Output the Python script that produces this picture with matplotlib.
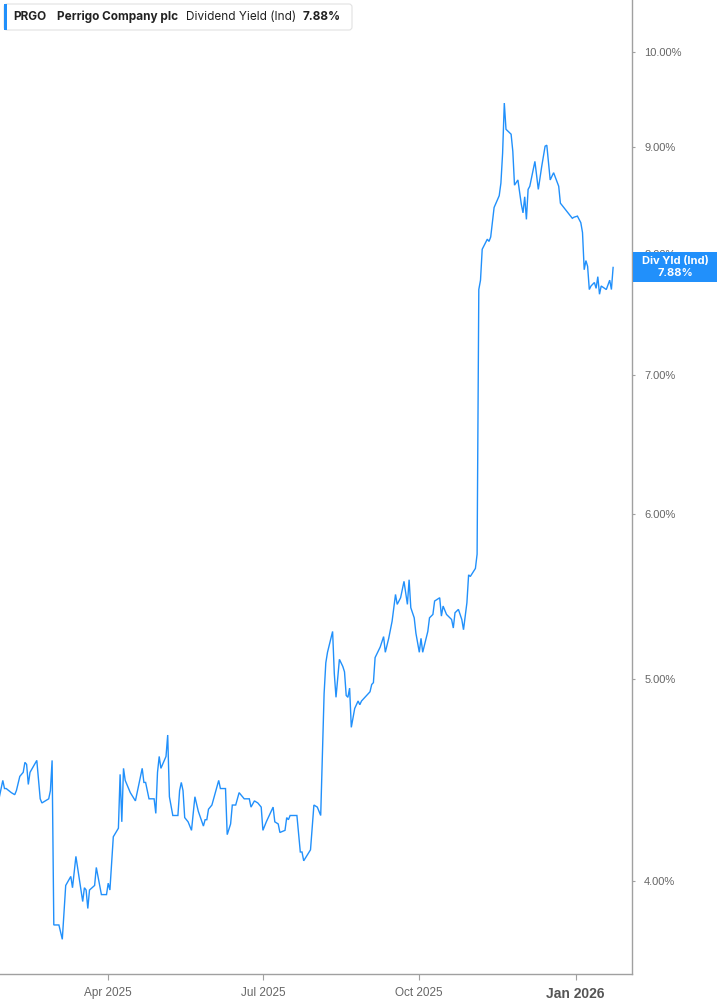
import matplotlib
matplotlib.use("Agg")
import matplotlib.pyplot as plt
import matplotlib.dates as mdates
import pandas as pd
from matplotlib import font_manager
from matplotlib.patches import Rectangle, FancyBboxPatch
from matplotlib.ticker import FixedLocator, FuncFormatter, NullLocator
from matplotlib.transforms import IdentityTransform

# values (dividend yield, %)
dates = [
    "2025-01-27", "2025-01-29", "2025-01-30", "2025-01-31", "2025-02-03", "2025-02-05",
    "2025-02-06", "2025-02-08", "2025-02-10", "2025-02-11", "2025-02-12", "2025-02-13",
    "2025-02-14", "2025-02-18", "2025-02-20", "2025-02-21", "2025-02-25", "2025-02-26",
    "2025-02-27", "2025-02-28", "2025-03-03", "2025-03-05", "2025-03-07", "2025-03-10",
    "2025-03-11", "2025-03-13", "2025-03-17", "2025-03-18", "2025-03-19", "2025-03-20",
    "2025-03-21", "2025-03-24", "2025-03-25", "2025-03-26", "2025-03-28", "2025-03-31",
    "2025-04-01", "2025-04-02", "2025-04-04", "2025-04-07", "2025-04-08", "2025-04-09",
    "2025-04-10", "2025-04-11", "2025-04-14", "2025-04-17", "2025-04-21", "2025-04-22",
    "2025-04-23", "2025-04-25", "2025-04-28", "2025-04-29", "2025-04-30", "2025-05-01",
    "2025-05-02", "2025-05-05", "2025-05-06", "2025-05-07", "2025-05-09", "2025-05-12",
    "2025-05-13", "2025-05-14", "2025-05-15", "2025-05-16", "2025-05-18", "2025-05-20",
    "2025-05-22", "2025-05-24", "2025-05-27", "2025-05-28", "2025-05-29", "2025-05-30",
    "2025-06-01", "2025-06-05", "2025-06-06", "2025-06-09", "2025-06-10", "2025-06-12",
    "2025-06-13", "2025-06-15", "2025-06-17", "2025-06-20", "2025-06-23", "2025-06-24",
    "2025-06-26", "2025-06-28", "2025-06-30", "2025-07-01", "2025-07-03", "2025-07-07",
    "2025-07-08", "2025-07-10", "2025-07-11", "2025-07-14", "2025-07-15", "2025-07-16",
    "2025-07-17", "2025-07-21", "2025-07-23", "2025-07-24", "2025-07-25", "2025-07-29",
    "2025-07-31", "2025-08-02", "2025-08-04", "2025-08-06", "2025-08-07", "2025-08-08",
    "2025-08-11", "2025-08-12", "2025-08-13", "2025-08-15", "2025-08-17", "2025-08-18",
    "2025-08-19", "2025-08-20", "2025-08-21", "2025-08-22", "2025-08-24", "2025-08-26",
    "2025-08-27", "2025-08-28", "2025-08-30", "2025-09-02", "2025-09-03", "2025-09-04",
    "2025-09-05", "2025-09-08", "2025-09-09", "2025-09-10", "2025-09-11", "2025-09-13",
    "2025-09-15", "2025-09-17", "2025-09-18", "2025-09-20", "2025-09-22", "2025-09-24",
    "2025-09-25", "2025-09-26", "2025-09-28", "2025-09-29", "2025-10-01", "2025-10-02",
    "2025-10-03", "2025-10-06", "2025-10-07", "2025-10-09", "2025-10-10", "2025-10-13",
    "2025-10-14", "2025-10-15", "2025-10-17", "2025-10-20", "2025-10-21", "2025-10-22",
    "2025-10-24", "2025-10-26", "2025-10-27", "2025-10-29", "2025-10-30", "2025-10-31",
    "2025-11-03", "2025-11-04", "2025-11-05", "2025-11-06", "2025-11-07", "2025-11-10",
    "2025-11-11", "2025-11-12", "2025-11-14", "2025-11-17", "2025-11-18", "2025-11-19",
    "2025-11-20", "2025-11-21", "2025-11-24", "2025-11-25", "2025-11-26", "2025-11-28",
    "2025-11-30", "2025-12-01", "2025-12-02", "2025-12-03", "2025-12-04", "2025-12-05",
    "2025-12-08", "2025-12-10", "2025-12-12", "2025-12-14", "2025-12-15", "2025-12-17",
    "2025-12-19", "2025-12-22", "2025-12-23", "2025-12-26", "2025-12-30", "2025-12-31",
    "2026-01-02", "2026-01-04", "2026-01-05", "2026-01-06", "2026-01-07", "2026-01-08",
    "2026-01-09", "2026-01-10", "2026-01-12", "2026-01-13", "2026-01-14", "2026-01-15",
    "2026-01-16", "2026-01-19", "2026-01-21", "2026-01-22", "2026-01-23",
]
div_yield = [
    4.39, 4.47, 4.43, 4.43, 4.41, 4.40,
    4.42, 4.49, 4.51, 4.56, 4.55, 4.45,
    4.51, 4.57, 4.38, 4.36, 4.38, 4.42,
    4.57, 3.81, 3.81, 3.75, 3.98, 4.02,
    3.97, 4.11, 3.91, 3.97, 3.96, 3.88,
    3.96, 3.98, 4.06, 4.02, 3.94, 3.94,
    3.99, 3.96, 4.20, 4.24, 4.50, 4.27,
    4.53, 4.47, 4.41, 4.37, 4.53, 4.46,
    4.46, 4.38, 4.38, 4.31, 4.51, 4.59,
    4.53, 4.59, 4.70, 4.39, 4.30, 4.30,
    4.42, 4.46, 4.42, 4.29, 4.27, 4.23,
    4.39, 4.32, 4.25, 4.28, 4.28, 4.33,
    4.35, 4.47, 4.43, 4.43, 4.21, 4.26,
    4.35, 4.35, 4.41, 4.38, 4.38, 4.34,
    4.37, 4.36, 4.34, 4.23, 4.27, 4.34,
    4.27, 4.26, 4.22, 4.23, 4.29, 4.28,
    4.30, 4.30, 4.13, 4.13, 4.09, 4.14,
    4.35, 4.34, 4.30, 4.92, 5.09, 5.15,
    5.27, 5.03, 4.90, 5.11, 5.07, 5.04,
    4.91, 4.90, 4.95, 4.74, 4.84, 4.88,
    4.86, 4.88, 4.90, 4.93, 4.97, 4.98,
    5.12, 5.18, 5.21, 5.24, 5.15, 5.23,
    5.33, 5.49, 5.43, 5.47, 5.57, 5.43,
    5.58, 5.41, 5.35, 5.26, 5.15, 5.23,
    5.15, 5.27, 5.35, 5.37, 5.45, 5.47,
    5.36, 5.42, 5.37, 5.34, 5.29, 5.38,
    5.40, 5.34, 5.28, 5.44, 5.61, 5.60,
    5.65, 5.74, 7.69, 7.77, 8.04, 8.13,
    8.11, 8.15, 8.42, 8.53, 8.65, 8.94,
    9.45, 9.18, 9.13, 8.96, 8.63, 8.68,
    8.45, 8.37, 8.52, 8.31, 8.59, 8.62,
    8.86, 8.59, 8.81, 9.01, 9.02, 8.68,
    8.75, 8.62, 8.46, 8.40, 8.32, 8.33,
    8.34, 8.28, 8.19, 7.86, 7.94, 7.89,
    7.69, 7.72, 7.75, 7.70, 7.80, 7.65,
    7.72, 7.69, 7.77, 7.69, 7.88,
]

ticker = "PRGO"
company = "Perrigo Company plc"
metric = "Dividend Yield (Ind)"
tag_label = "Div Yld (Ind)"
y_ticks = [4, 5, 6, 7, 8, 9, 10]
x_ticks = ["2025-04-01", "2025-07-01", "2025-10-01", "2026-01-01"]
x_tick_labels = ["Apr 2025", "Jul 2025", "Oct 2025", "Jan 2026"]

BLUE = "#2190fb"
AXIS_GREY = "#a0a0a0"
LABEL_GREY = "#666666"

installed = {f.name for f in font_manager.fontManager.ttflist}
narrow = "Liberation Sans Narrow" if "Liberation Sans Narrow" in installed else "Liberation Sans"
ui_font = ["Inter", "DejaVu Sans"]

W, H = 717, 1005
fig = plt.figure(figsize=(W / 100, H / 100), dpi=100)
ax = fig.add_axes([0, 31 / H, 632.3 / W, 1 - 31 / H])

x = pd.to_datetime(dates)
ax.plot(x, div_yield, color=BLUE, lw=1.0, solid_joinstyle="miter")

ax.set_yscale("log")
ax.set_ylim(3.609, 10.59)
ax.set_xlim(pd.Timestamp("2025-01-27 08:24"), pd.Timestamp("2026-02-03 07:00"))

for side in ["top", "left"]:
    ax.spines[side].set_visible(False)
for side in ["right", "bottom"]:
    ax.spines[side].set_color(AXIS_GREY)
    ax.spines[side].set_linewidth(1.0)

# y axis on the right, log scale with fixed percent ticks
ax.yaxis.tick_right()
ax.yaxis.set_major_locator(FixedLocator(y_ticks))
ax.yaxis.set_minor_locator(NullLocator())
ax.yaxis.set_major_formatter(FuncFormatter(lambda v, _: f"{v:.2f}%"))
ax.tick_params(axis="y", length=2.5, width=0.8, color=AXIS_GREY, pad=6,
               labelsize=8, labelcolor=LABEL_GREY)
for lab in ax.get_yticklabels():
    lab.set_family(["Liberation Sans", "DejaVu Sans"])

ax.set_xticks(pd.to_datetime(x_ticks))
ax.set_xticklabels(x_tick_labels)
ax.xaxis.set_minor_locator(NullLocator())
ax.tick_params(axis="x", length=4.5, width=0.8, color=AXIS_GREY, pad=5,
               labelsize=8.5, labelcolor=LABEL_GREY)
for lab in ax.get_xticklabels():
    lab.set_family([narrow, "DejaVu Sans"])
last_lab = ax.get_xticklabels()[-1]
last_lab.set_fontweight("bold")
last_lab.set_fontsize(10)
last_lab.set_color("#555555")

# value tag on the right axis
last_val = div_yield[-1]
y_disp = ax.transData.transform((mdates.date2num(x[-1]), last_val))[1]
fig.add_artist(Rectangle((632.7, y_disp - 15), 85, 30, transform=IdentityTransform(),
                         facecolor=BLUE, edgecolor="none", zorder=5))
fig.text(675, y_disp + 6, tag_label, transform=IdentityTransform(), ha="center", va="center",
         color="white", fontsize=8, fontweight="bold", family=ui_font, zorder=6)
fig.text(675, y_disp - 6, f"{last_val:.2f}%", transform=IdentityTransform(), ha="center",
         va="center", color="white", fontsize=8, fontweight="bold", family=ui_font, zorder=6)

# legend card top-left
fig.add_artist(FancyBboxPatch((4, H - 30), 348, 26, boxstyle="round,pad=0,rounding_size=3",
                              transform=IdentityTransform(), facecolor="white",
                              edgecolor="#e2e2e2", lw=0.8, zorder=6))
fig.add_artist(Rectangle((4, H - 30), 3, 26, transform=IdentityTransform(),
                         facecolor=BLUE, edgecolor="none", zorder=7))
ty = H - 17
for xpos, txt, wt in [(13, ticker, "bold"), (57, company, "bold"),
                      (186, metric, "normal"), (303, f"{last_val:.2f}%", "bold")]:
    fig.text(xpos, ty, txt, transform=IdentityTransform(), ha="left", va="center",
             fontsize=8.5, fontweight=wt, color="#222222", family=ui_font, zorder=8)

fig.savefig("out.png", dpi=100)
